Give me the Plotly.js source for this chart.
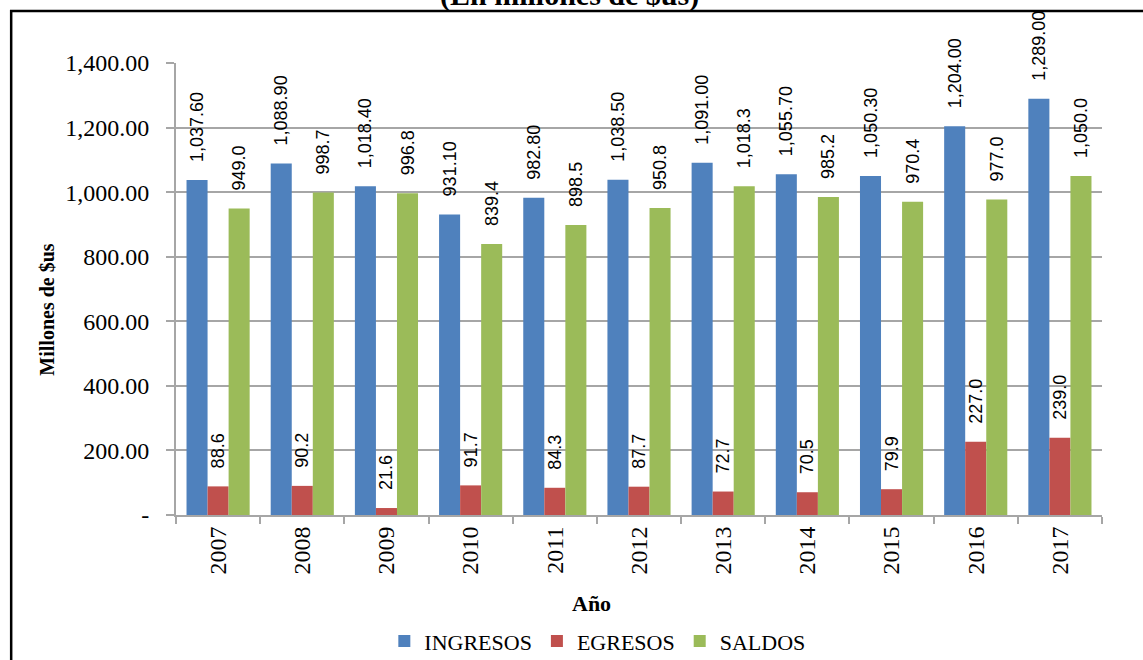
<!DOCTYPE html>
<html>
<head>
<meta charset="utf-8">
<script src="https://cdn.plot.ly/plotly-3.0.1.min.js"></script>
<style>
html,body{margin:0;padding:0;background:#fff;}
#chart{width:1143px;height:660px;}
</style>
</head>
<body>
<div id="chart"></div>
<script>
const years = ['2007','2008','2009','2010','2011','2012','2013','2014','2015','2016','2017'];
const ingresos = [1037.6, 1088.9, 1018.4, 931.1, 982.8, 1038.5, 1091.0, 1055.7, 1050.3, 1204.0, 1289.0];
const egresos = [88.6, 90.2, 21.6, 91.7, 84.3, 87.7, 72.7, 70.5, 79.9, 227.0, 239.0];
const saldos = [949.0, 998.7, 996.8, 839.4, 898.5, 950.8, 1018.3, 985.2, 970.4, 977.0, 1050.0];
const yTickVals = [0, 200, 400, 600, 800, 1000, 1200, 1400];
const yTickText = ['-', '200.00', '400.00', '600.00', '800.00', '1,000.00', '1,200.00', '1,400.00'];

const pad = '\u00a0\u00a0\u00a0';
const labelFont = {family: 'Liberation Sans, Arial, sans-serif', size: 18, color: '#000'};
function series(name, vals, color, fmt) {
  return {
    type: 'bar', name: name, x: years, y: vals,
    marker: {color: color, line: {width: 0}},
    texttemplate: pad + '%{y:' + fmt + '}',
    textposition: 'outside', textangle: -90,
    textfont: labelFont, constraintext: 'none', cliponaxis: false,
    hoverinfo: 'x+y'
  };
}
const data = [
  series('INGRESOS', ingresos, '#4F81BD', ',.2f'),
  series('EGRESOS', egresos, '#C0504D', ',.1f'),
  series('SALDOS', saldos, '#9BBB59', ',.1f')
];

const serif = 'Liberation Serif, Times New Roman, serif';
const layout = {
  width: 1143, height: 660,
  margin: {l: 176, r: 41, t: 63, b: 145, autoexpand: false},
  paper_bgcolor: '#fff', plot_bgcolor: '#fff',
  barmode: 'group', bargap: 0.25, bargroupgap: 0,
  showlegend: true,
  legend: {orientation: 'h', x: 0.455, xanchor: 'center', y: -0.279, yanchor: 'middle',
           font: {family: serif, size: 22, color: '#000'}, itemwidth: 30, traceorder: 'normal'},
  xaxis: {
    type: 'category', showgrid: false, showline: true, linecolor: '#A6A6A6', linewidth: 2,
    ticks: 'outside', tickson: 'boundaries', ticklen: 7, tickcolor: '#A6A6A6', tickwidth: 2,
    tickangle: -90, tickfont: {family: serif, size: 24, color: '#000'},
    range: [-0.5, 10.5], automargin: false
  },
  yaxis: {
    range: [0, 1400], tickvals: yTickVals, ticktext: yTickText,
    showgrid: true, gridcolor: '#A6A6A6', gridwidth: 2,
    showline: true, linecolor: '#A6A6A6', linewidth: 2,
    ticks: 'outside', ticklen: 8, tickcolor: '#A6A6A6', tickwidth: 2,
    ticklabelstandoff: 12, automargin: false,
    tickfont: {family: serif, size: 24, color: '#000'}, zeroline: false
  },
  annotations: [
    {text: '<b>(En millones de $us)</b>', xref: 'paper', yref: 'paper', x: 0.425, y: 1.108,
     xanchor: 'center', yanchor: 'bottom', showarrow: false,
     font: {family: serif, size: 30, color: '#000'}},
    {text: '<b>Millones de $us</b>', xref: 'paper', yref: 'paper', x: -0.139, y: 0.455,
     xanchor: 'center', yanchor: 'middle', textangle: -90, showarrow: false,
     font: {family: serif, size: 20, color: '#000'}},
    {text: '<b>Año</b>', xref: 'paper', yref: 'paper', x: 0.449, y: -0.195,
     xanchor: 'center', yanchor: 'middle', showarrow: false,
     font: {family: serif, size: 22, color: '#000'}}
  ],
  shapes: [
    {type: 'rect', xref: 'paper', yref: 'paper', x0: -0.178, x1: 1.2, y0: -0.5, y1: 1.115,
     line: {color: '#000', width: 2.5}, fillcolor: 'rgba(0,0,0,0)', layer: 'above'}
  ]
};

Plotly.newPlot('chart', data, layout, {displayModeBar: false, staticPlot: true});
</script>
</body>
</html>
